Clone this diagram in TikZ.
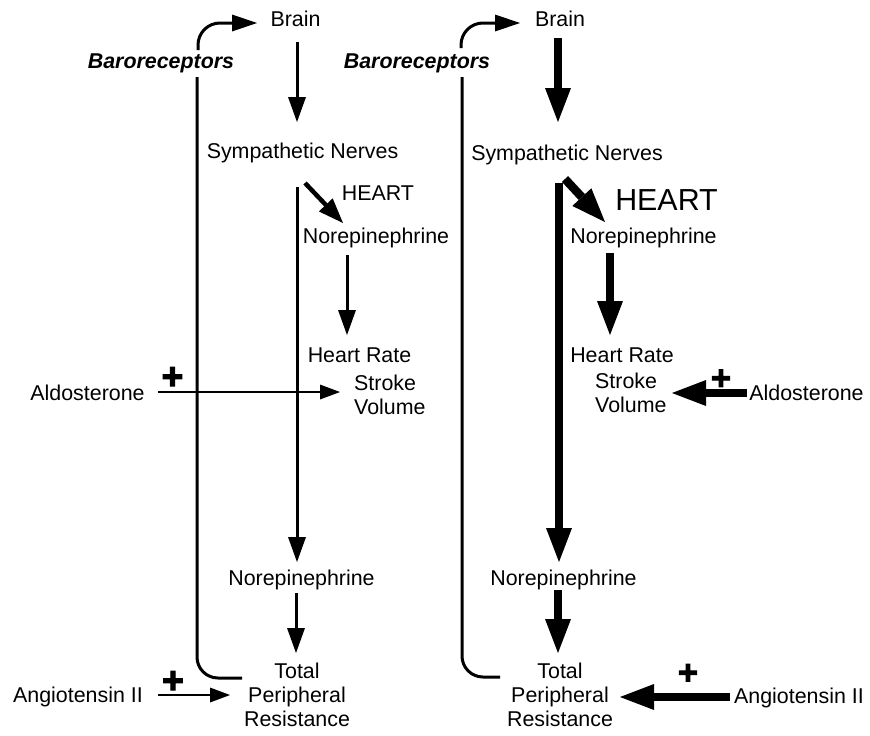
\documentclass[tikz,border=0pt]{standalone}
\usepackage{fontspec}
\setmainfont{Liberation Sans}
\newfontfamily\plusfont[FakeBold=3]{Liberation Sans Bold}
\usetikzlibrary{arrows.meta}
\begin{document}
\begin{tikzpicture}[x=1pt,y=-1pt,
  lbl/.style={inner sep=0pt, anchor=base, font=\fontsize{21.4}{24}\selectfont},
  mlbl/.style={lbl, align=center},
  llbl/.style={inner sep=0pt, anchor=base west, align=left, font=\fontsize{21.4}{24}\selectfont},
  barolbl/.style={lbl, font=\fontsize{21.4}{24}\selectfont\bfseries\itshape},
  bigheart/.style={inner sep=0pt, anchor=base, font=\fontsize{30.4}{34}\selectfont},
  plussign/.style={inner sep=0pt, anchor=base, font=\plusfont\fontsize{37}{37}\selectfont},
  plussignR/.style={inner sep=0pt, anchor=base, font=\plusfont\fontsize{34}{34}\selectfont},
  thinarr/.style={line width=3pt, -{Triangle[length=25pt,width=18pt,line width=0pt]}},
  diagarr/.style={line width=4.5pt, -{Triangle[length=25pt,width=19pt,line width=0pt]}},
  hairarr/.style={line width=2pt, -{Triangle[length=20pt,width=15pt,line width=0pt]}},
  thickarr/.style={line width=8.5pt, -{Triangle[length=34pt,width=26pt,line width=0pt]}},
  loopline/.style={line width=3pt, rounded corners=21pt},
  looparr/.style={line width=3pt, rounded corners=22pt, -{Triangle[length=25pt,width=17pt,line width=0pt]}}
]
\useasboundingbox (0,0) rectangle (870,736);

% ---------------- left panel ----------------
\node[lbl] (Lbrain) at (295.5,27) {Brain};
\node[barolbl] (Lbaro) at (161,68) {Baroreceptors};
\node[lbl] (Lsymp) at (302.5,158) {Sympathetic Nerves};
\node[lbl] (Lheart) at (378,200) {HEART};
\node[lbl] (Lnor1) at (376,243) {Norepinephrine};
\node[lbl] (Lhr) at (359.5,362) {Heart Rate};
\node[llbl] (Lsv) at (354,414) {Stroke\\Volume};
\node[lbl] (Lald) at (87.5,400) {Aldosterone};
\node[plussign] (Lplus1) at (172.5,389) {+};
\node[lbl] (Lnor2) at (301.5,585) {Norepinephrine};
\node[mlbl] (Ltpr) at (297,726) {Total\\Peripheral\\Resistance};
\node[lbl] (Lang) at (78,702) {Angiotensin II};
\node[plussign] (Lplus2) at (173,693) {+};

\coordinate (LbrainOut) at (297,42);
\coordinate (LsympIn) at (297,122);
\coordinate (LsympOut) at (297,187);
\coordinate (Lnor2In) at (297,562);
\coordinate (LdiagOut) at (305,183);
\coordinate (Lnor1In) at (343,223);
\coordinate (Lnor1Out) at (347,255);
\coordinate (LhrIn) at (347,335);
\coordinate (LaldOut) at (158,392);
\coordinate (LsvIn) at (340,392);
\coordinate (Lnor2Out) at (296,593);
\coordinate (LtprIn) at (296,653);
\coordinate (LangOut) at (158,695);
\coordinate (LtprSide) at (230,695);
\coordinate (LtprLoop) at (242,678);
\coordinate (LloopCorner) at (197,678);
\coordinate (LbaroBelow) at (197,77);
\coordinate (LbaroAbove) at (198,50);
\coordinate (LtopCorner) at (198,23);
\coordinate (LbrainIn) at (257,23);

\draw[thinarr] (LbrainOut) -- (LsympIn);
\draw[thinarr] (LsympOut) -- (Lnor2In);
\draw[diagarr] (LdiagOut) -- (Lnor1In);
\draw[thinarr] (Lnor1Out) -- (LhrIn);
\draw[hairarr] (LaldOut) -- (LsvIn);
\draw[thinarr] (Lnor2Out) -- (LtprIn);
\draw[hairarr] (LangOut) -- (LtprSide);
\draw[loopline] (LtprLoop) -- (LloopCorner) -- (LbaroBelow);
\draw[looparr] (LbaroAbove) -- (LtopCorner) -- (LbrainIn);

% ---------------- right panel ----------------
\node[lbl] (Rbrain) at (560,27) {Brain};
\node[barolbl] (Rbaro) at (417,68) {Baroreceptors};
\node[lbl] (Rsymp) at (567,160) {Sympathetic Nerves};
\node[bigheart] (Rheart) at (666.5,210) {HEART};
\node[lbl] (Rnor1) at (643.5,243) {Norepinephrine};
\node[lbl] (Rhr) at (622,362) {Heart Rate};
\node[llbl] (Rsv) at (595,412) {Stroke\\Volume};
\node[lbl] (Rald) at (806.5,400) {Aldosterone};
\node[plussignR] (Rplus1) at (721,389.5) {+};
\node[lbl] (Rnor2) at (563.5,585) {Norepinephrine};
\node[mlbl] (Rtpr) at (560,726) {Total\\Peripheral\\Resistance};
\node[lbl] (Rang) at (799,703) {Angiotensin II};
\node[plussignR] (Rplus2) at (688,684) {+};

\coordinate (RbrainOut) at (558,38);
\coordinate (RsympIn) at (558,122);
\coordinate (RsympOut) at (559,183);
\coordinate (Rnor2In) at (559,562);
\coordinate (RdiagOut) at (565,179);
\coordinate (Rnor1In) at (605,222);
\coordinate (Rnor1Out) at (610,253);
\coordinate (RhrIn) at (610,335);
\coordinate (RaldOut) at (747,393);
\coordinate (RsvIn) at (672,393);
\coordinate (Rnor2Out) at (558,590);
\coordinate (RtprIn) at (558,653);
\coordinate (RangOut) at (730,697);
\coordinate (RtprSide) at (620,697);
\coordinate (RtprLoop) at (500,677);
\coordinate (RloopCorner) at (462,677);
\coordinate (RbaroBelow) at (462,77);
\coordinate (RbaroAbove) at (461,48);
\coordinate (RtopCorner) at (461,23);
\coordinate (RbrainIn) at (520,23);

\draw[thickarr] (RbrainOut) -- (RsympIn);
\draw[thickarr] (RsympOut) -- (Rnor2In);
\draw[thickarr] (RdiagOut) -- (Rnor1In);
\draw[thickarr] (Rnor1Out) -- (RhrIn);
\draw[thickarr] (RaldOut) -- (RsvIn);
\draw[thickarr] (Rnor2Out) -- (RtprIn);
\draw[thickarr] (RangOut) -- (RtprSide);
\draw[loopline] (RtprLoop) -- (RloopCorner) -- (RbaroBelow);
\draw[looparr] (RbaroAbove) -- (RtopCorner) -- (RbrainIn);
\end{tikzpicture}
\end{document}
